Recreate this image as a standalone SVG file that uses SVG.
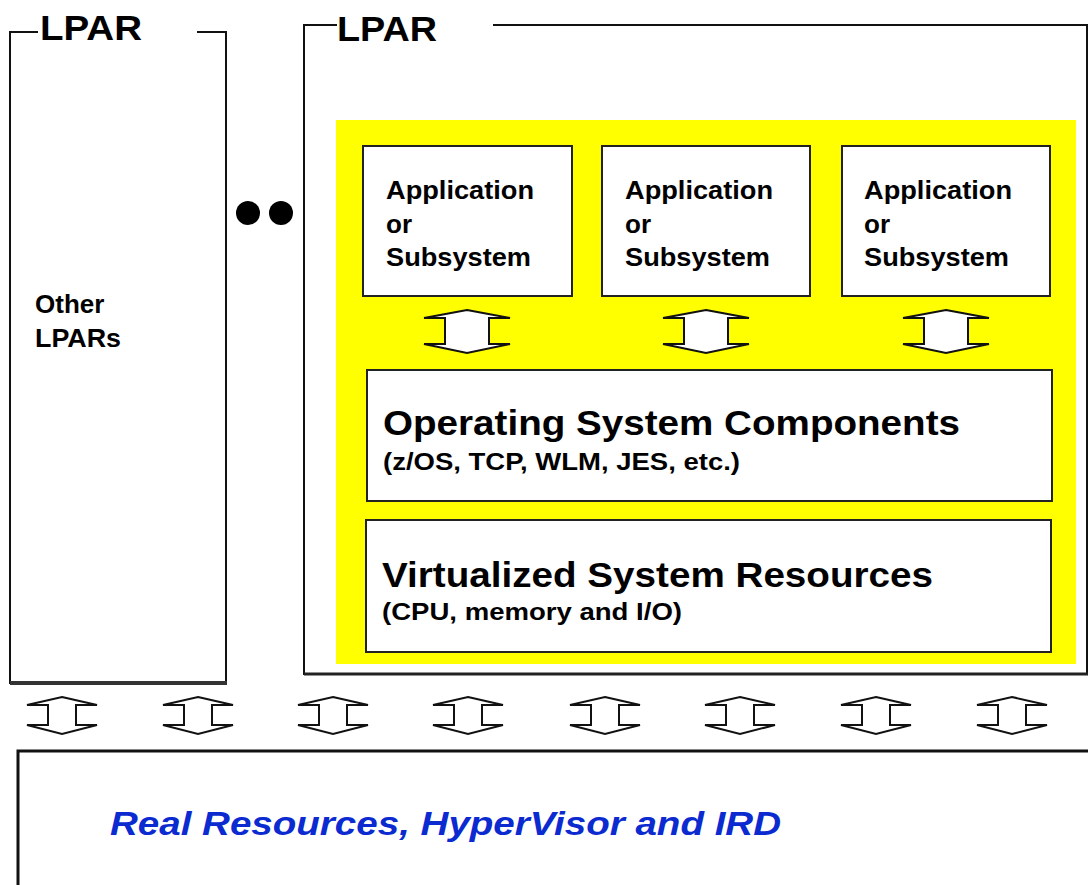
<svg xmlns="http://www.w3.org/2000/svg" width="1088" height="885" viewBox="0 0 1088 885">
  <style>
    .frame { fill: none; stroke: #111; stroke-width: 2; }
    .box { fill: #fff; stroke: #222; stroke-width: 2; }
    .arrow { fill: #fff; stroke: #111; stroke-width: 2; stroke-linejoin: miter; }
    .t { font-family: "Liberation Sans", Arial, sans-serif; font-weight: bold; fill: #000; }
    .title { font-size: 35px; }
    .app { font-size: 26px; }
    .big { font-size: 35px; }
    .small { font-size: 24px; }
    .hv { font-family: "Liberation Sans", Arial, sans-serif; font-weight: bold; font-style: italic; font-size: 34px; fill: #0b2bd1; }
  </style>
  <defs>
    <!-- double-headed block arrow, centred on x=0 -->
    <path id="arrowSmall" class="arrow" d="M0,310 L43,318 L22,318 L22,344 L43,344 L0,353 L-43,344 L-22,344 L-22,318 L-43,318 Z"/>
    <path id="arrowBase" class="arrow" d="M0,697 L35,705 L14,705 L14,725 L35,725 L0,734 L-35,725 L-14,725 L-14,705 L-35,705 Z"/>
  </defs>

  <rect width="1088" height="885" fill="#fff"/>

  <!-- other LPARs -->
  <g id="lpar-other">
    <path class="frame" d="M38,32 L10,32 L10,683 L226,683 L226,32 L197,32"/>
    <line x1="10" y1="683" x2="227" y2="683" stroke="#333" stroke-width="4"/>
    <text class="t title" x="40" y="40" textLength="102" lengthAdjust="spacingAndGlyphs">LPAR</text>
    <text class="t app" x="35" y="313">Other</text>
    <text class="t app" x="35" y="347" textLength="86" lengthAdjust="spacingAndGlyphs">LPARs</text>
  </g>

  <!-- ellipsis dots -->
  <g id="ellipsis">
    <circle cx="248" cy="213" r="12" fill="#000"/>
    <circle cx="281" cy="213" r="12" fill="#000"/>
  </g>

  <!-- main LPAR -->
  <g id="lpar-main">
    <path class="frame" d="M337,25 L304,25 L304,674 L1087,674 L1087,25 L493,25"/>
    <line x1="304" y1="674" x2="1088" y2="674" stroke="#222" stroke-width="3"/>
    <text class="t title" x="337" y="41" textLength="100" lengthAdjust="spacingAndGlyphs">LPAR</text>
    <rect x="336" y="120" width="740" height="544" fill="#ffff00"/>
  </g>

  <g id="app1">
    <rect class="box" x="363" y="146" width="209" height="150"/>
    <text class="t app" x="386" y="199" textLength="148" lengthAdjust="spacingAndGlyphs">Application</text>
    <text class="t app" x="386" y="233">or</text>
    <text class="t app" x="386" y="266" textLength="145" lengthAdjust="spacingAndGlyphs">Subsystem</text>
  </g>
  <g id="app2">
    <rect class="box" x="602" y="146" width="208" height="150"/>
    <text class="t app" x="625" y="199" textLength="148" lengthAdjust="spacingAndGlyphs">Application</text>
    <text class="t app" x="625" y="233">or</text>
    <text class="t app" x="625" y="266" textLength="145" lengthAdjust="spacingAndGlyphs">Subsystem</text>
  </g>
  <g id="app3">
    <rect class="box" x="842" y="146" width="208" height="150"/>
    <text class="t app" x="864" y="199" textLength="148" lengthAdjust="spacingAndGlyphs">Application</text>
    <text class="t app" x="864" y="233">or</text>
    <text class="t app" x="864" y="266" textLength="145" lengthAdjust="spacingAndGlyphs">Subsystem</text>
  </g>

  <g id="os">
    <rect class="box" x="367" y="370" width="685" height="131"/>
    <text class="t big" x="383" y="435" textLength="577" lengthAdjust="spacingAndGlyphs">Operating System Components</text>
    <text class="t small" x="383" y="470" textLength="357" lengthAdjust="spacingAndGlyphs">(z/OS, TCP, WLM, JES, etc.)</text>
  </g>

  <g id="vsr">
    <rect class="box" x="366" y="520" width="685" height="132"/>
    <text class="t big" x="382" y="587" textLength="551" lengthAdjust="spacingAndGlyphs">Virtualized System Resources</text>
    <text class="t small" x="382" y="620" textLength="300" lengthAdjust="spacingAndGlyphs">(CPU, memory and I/O)</text>
  </g>

  <g id="hypervisor">
    <rect x="18" y="751" width="1080" height="150" fill="#fff" stroke="#111" stroke-width="3"/>
    <text class="hv" x="110" y="835" textLength="671" lengthAdjust="spacingAndGlyphs">Real Resources, HyperVisor and IRD</text>
  </g>

  <!-- connectors -->
  <g id="connectors">
    <use href="#arrowSmall" x="467"/>
    <use href="#arrowSmall" x="706"/>
    <use href="#arrowSmall" x="946"/>
    <use href="#arrowBase" x="62"/>
    <use href="#arrowBase" x="198"/>
    <use href="#arrowBase" x="333"/>
    <use href="#arrowBase" x="468"/>
    <use href="#arrowBase" x="605"/>
    <use href="#arrowBase" x="740"/>
    <use href="#arrowBase" x="876"/>
    <use href="#arrowBase" x="1012"/>
  </g>
</svg>
